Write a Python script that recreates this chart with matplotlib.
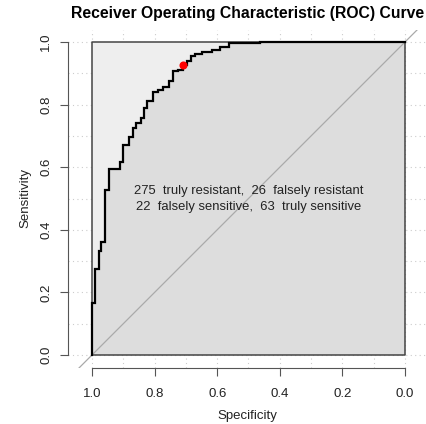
import numpy as np
import matplotlib
matplotlib.use("Agg")
import matplotlib.pyplot as plt

# ROC staircase (specificity, sensitivity)
roc_spec = [1.000, 1.000, 0.989, 0.989, 0.979, 0.979, 0.970, 0.970, 0.958, 0.958,
            0.947, 0.947, 0.910, 0.910, 0.900, 0.900, 0.883, 0.883, 0.870, 0.870,
            0.859, 0.859, 0.843, 0.843, 0.833, 0.833, 0.823, 0.823, 0.806, 0.806,
            0.790, 0.790, 0.774, 0.774, 0.755, 0.755, 0.742, 0.742, 0.725, 0.725,
            0.708, 0.708, 0.697, 0.697, 0.685, 0.685, 0.671, 0.671, 0.650, 0.650,
            0.618, 0.618, 0.591, 0.591, 0.561, 0.561, 0.463, 0.463, 0.000]
roc_sens = [0.000, 0.165, 0.165, 0.275, 0.275, 0.332, 0.332, 0.360, 0.360, 0.527,
            0.527, 0.593, 0.593, 0.618, 0.618, 0.671, 0.671, 0.697, 0.697, 0.724,
            0.724, 0.740, 0.740, 0.757, 0.757, 0.790, 0.790, 0.810, 0.810, 0.840,
            0.840, 0.848, 0.848, 0.855, 0.855, 0.876, 0.876, 0.906, 0.906, 0.912,
            0.912, 0.926, 0.926, 0.940, 0.940, 0.955, 0.955, 0.962, 0.962, 0.968,
            0.968, 0.975, 0.975, 0.983, 0.983, 0.997, 0.997, 1.000, 1.000]

# best threshold point
best_spec = 63 / 89
best_sens = 275 / 297

# confusion counts
truly_resistant = 275
falsely_resistant = 26
falsely_sensitive = 22
truly_sensitive = 63

ticks = [1.0, 0.8, 0.6, 0.4, 0.2, 0.0]
tick_labels = ["1.0", "0.8", "0.6", "0.4", "0.2", "0.0"]

plt.rcParams['font.family'] = ['Liberation Sans', 'DejaVu Sans']

fig = plt.figure(figsize=(4.27, 4.24), dpi=100)
W, H = 427, 424
ax = fig.add_axes([68 / W, (H - 367.5) / H, (427 - 68) / W, (367.5 - 29.5) / H])
ax.set_xlim(1 + 24 / 313, -22 / 313)
ax.set_ylim(-0.04, 1.04)

# dotted grid
for g in np.arange(0, 1.01, 0.1):
    ax.axvline(g, color="#CCCCCC", lw=0.8, ls=(0, (1, 3)), zorder=0)
    ax.axhline(g, color="#CCCCCC", lw=0.8, ls=(0, (1, 3)), zorder=0)

# max auc polygon and auc polygon
ax.fill([1, 0, 0, 1], [0, 0, 1, 1], color="#EEEEEE", zorder=1, lw=0)
ax.fill(roc_spec + [0.0], roc_sens + [0.0], color="#DDDDDD", zorder=2, lw=0)

# identity line
ax.plot([1.2, -0.2], [-0.2, 1.2], color="#AAAAAA", lw=0.9, zorder=3)

# box
ax.plot([1, 0, 0, 1, 1], [0, 0, 1, 1, 0], color="#444444", lw=1.1, zorder=4)

# curve
ax.plot(roc_spec, roc_sens, color="black", lw=1.6, zorder=5, solid_joinstyle="miter")
ax.plot([best_spec], [best_sens], "o", color="red", ms=4.8, mec="red", zorder=6)

txt = (f"{truly_resistant}  truly resistant,  {falsely_resistant}  falsely resistant\n"
       f"{falsely_sensitive}  falsely sensitive,  {truly_sensitive}  truly sensitive")
ax.text(0.5, 0.497, txt, ha="center", va="center", ma="center", fontsize=9.4,
        color="#222222", linespacing=1.45, zorder=7)

for s in ["top", "right"]:
    ax.spines[s].set_visible(False)
ax.spines["left"].set_bounds(0, 1)
ax.spines["bottom"].set_bounds(0, 1)
for s in ["left", "bottom"]:
    ax.spines[s].set_color("#555555")
    ax.spines[s].set_linewidth(0.8)
ax.set_xticks(ticks)
ax.set_xticklabels(tick_labels)
ax.set_yticks(ticks)
ax.set_yticklabels(tick_labels, rotation=90, va="center")
ax.tick_params(axis="both", direction="out", length=5.5, width=0.8, color="#555555",
               labelsize=9.5, labelcolor="#222222")
ax.tick_params(axis="x", pad=9.5)
ax.tick_params(axis="y", pad=6)

ax.set_xlabel("Specificity", fontsize=9.5, color="#222222", labelpad=7)
ax.set_ylabel("Sensitivity", fontsize=9.5, color="#222222", labelpad=6)
ax.set_title("Receiver Operating Characteristic (ROC) Curve", fontsize=11.3,
             fontweight="bold", pad=8)

fig.savefig("out.png", dpi=100)
